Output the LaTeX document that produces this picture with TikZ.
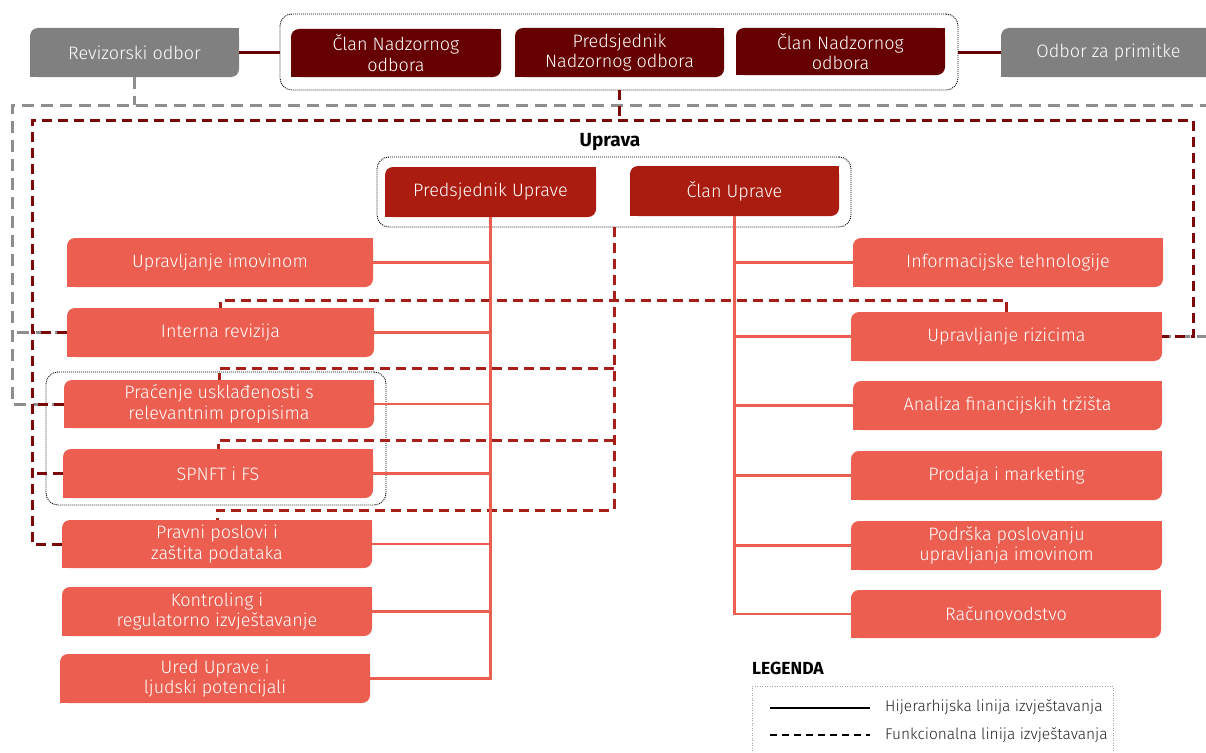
\documentclass[tikz,border=0pt]{standalone}
\usepackage{fontspec}
\setmainfont{Fira Sans}
\newfontfamily\lightfont{Fira Sans Light}
\usetikzlibrary{backgrounds}
\definecolor{gbox}{HTML}{808080}
\definecolor{nbox}{HTML}{660000}
\definecolor{ubox}{HTML}{AA1C10}
\definecolor{sbox}{HTML}{EB5E50}
\definecolor{maroonl}{HTML}{7A0808}
\definecolor{redl}{HTML}{A81E18}
\definecolor{grayl}{HTML}{8E8E8E}
\tikzset{
  box/.style={inner sep=0pt, outer sep=0pt, text=white, align=center, font=\lightfont\fontsize{18}{20.5}\selectfont},
  grp/.style={draw=black, line width=0.9pt, dash pattern=on 1pt off 1pt, rounded corners=12pt, inner sep=0pt, outer sep=0pt},
  legframe/.style={draw=black!35, line width=0.9pt, dash pattern=on 1pt off 1.5pt, inner sep=0pt, outer sep=0pt},
  sol/.style={draw=sbox, line width=2.2pt},
  nsol/.style={draw=nbox, line width=2.2pt},
  gdash/.style={draw=grayl, line width=3pt, dash pattern=on 12pt off 7pt},
  mdash/.style={draw=maroonl, line width=3pt, dash pattern=on 10pt off 6pt},
  rdash/.style={draw=redl, line width=3pt, dash pattern=on 10pt off 6pt},
  lbl/.style={inner sep=0pt, font=\fontsize{17.5}{20}\selectfont\bfseries},
  legtxt/.style={inner sep=0pt, anchor=west, text=black!85, font=\lightfont\fontsize{15.5}{18}\selectfont}
}
\newcommand\bx[7]{%
  \node[box, minimum width={#4-#2}, minimum height={#5-#3}] (#1) at ({(#2+#4)/2},{(#3+#5)/2}) {#7};
  \begin{scope}[on background layer]
    \fill[#6, rounded corners=8pt] (#1.south west) rectangle (#1.north east);
    \fill[#6] (#1.north east) rectangle ++(-9pt,-9pt);
    \fill[#6] (#1.south west) rectangle ++(9pt,9pt);
  \end{scope}}
\newcommand\gbx[6]{%
  \node[#6, minimum width={#4-#2}, minimum height={#5-#3}] (#1) at ({(#2+#4)/2},{(#3+#5)/2}) {};}
\begin{document}
\begin{tikzpicture}[x=1pt, y=-1pt]
\useasboundingbox (0,0) rectangle (1206,752);
% group frames
\gbx{ngrp}{280}{14}{958}{90}{grp}
\gbx{ugrp}{377}{157}{851}{227}{grp}
\gbx{cgrp}{46}{372}{386}{505}{grp}
\gbx{legbox}{752}{686}{1113}{770}{legframe}
% top boxes
\bx{revo}{30}{28}{239}{77}{gbox}{Revizorski odbor}
\bx{odbp}{1001}{28}{1216}{77}{gbox}{Odbor za primitke}
\bx{cno1}{291}{29}{501}{77}{nbox}{Član Nadzornog\\odbora}
\bx{pno}{515}{28}{724}{77}{nbox}{Predsjednik\\Nadzornog odbora}
\bx{cno2}{736}{28}{945}{75}{nbox}{Član Nadzornog\\odbora}
\node[lbl, font=\fontsize{19}{22}\selectfont\bfseries] (uprlbl) at (610,142) {Uprava};
\bx{predU}{385}{167}{596}{217}{ubox}{Predsjednik Uprave}
\bx{clanU}{630}{166}{839}{216}{ubox}{Član Uprave}
% left column
\bx{upim}{67}{238}{373}{287}{sbox}{Upravljanje imovinom}
\bx{intrev}{67}{308}{374}{357}{sbox}{Interna revizija}
\bx{prac}{64}{380}{374}{428}{sbox}{Praćenje usklađenosti s\\relevantnim propisima}
\bx{spnft}{63}{449}{373}{498}{sbox}{SPNFT i FS}
\bx{pravni}{62}{520}{372}{568}{sbox}{Pravni poslovi i\\zaštita podataka}
\bx{kontr}{62}{587}{372}{636}{sbox}{Kontroling i\\regulatorno izvještavanje}
\bx{ured}{60}{654}{370}{703}{sbox}{Ured Uprave i\\ljudski potencijali}
% right column
\bx{info}{853}{238}{1163}{287}{sbox}{Informacijske tehnologije}
\bx{uriz}{851}{312}{1162}{361}{sbox}{Upravljanje rizicima}
\bx{anal}{853}{381}{1162}{430}{sbox}{Analiza financijskih tržišta}
\bx{prod}{851}{451}{1162}{500}{sbox}{Prodaja i marketing}
\bx{podr}{851}{521}{1162}{570}{sbox}{Podrška poslovanju\\upravljanja imovinom}
\bx{racun}{851}{590}{1161}{638}{sbox}{Računovodstvo}
% top solid links
\draw[nsol] (revo.east) -- (revo.east -| ngrp.west);
\draw[nsol] (odbp.west) -- (odbp.west -| ngrp.east);
% gray dashed (functional)
\draw[gdash] (revo.south) -- (revo.south |- 0,105);
\draw[gdash] (prac.west) -| (12,105) -- (1212,105) |- (uriz.east);
\draw[gdash] (intrev.west) -- (intrev.west -| 12,0);
% maroon dashed (functional)
\draw[mdash] (ngrp.south) -- (ngrp.south |- 0,120);
\draw[mdash] (pravni.west) -| (32,120) -- (1193,120) |- (uriz.east);
\foreach \n in {intrev,prac,spnft} \draw[mdash] (\n.west) -- (\n.west -| 32,0);
% red dashed from Uprava
\draw[rdash] (ugrp.south) -- (ugrp.south |- 0,510) -| (pravni.north);
\draw[rdash] (ugrp.south |- 0,440) -| (spnft.north);
\draw[rdash] (ugrp.south |- 0,368) -| (prac.north);
\draw[rdash] (uriz.north) |- (intrev.north |- 0,300) -- (intrev.north);
% solid hierarchy
\draw[sol] (predU.south) -- (predU.south |- ured.east) -- (ured.east);
\foreach \n in {upim,intrev,prac,spnft,pravni,kontr} \draw[sol] (\n.east) -- (\n.east -| predU.south);
\draw[sol] (clanU.south) -- (clanU.south |- racun.west) -- (racun.west);
\foreach \n in {info,uriz,anal,prod,podr} \draw[sol] (\n.west) -- (\n.west -| clanU.south);
% legend
\node[lbl, anchor=west] (leglbl) at (752,668) {LEGENDA};
\coordinate (l1a) at (770,708);
\coordinate (l1b) at (870,708);
\coordinate (l2a) at (770,735);
\coordinate (l2b) at (870,735);
\draw[black, line width=1.6pt] (l1a) -- (l1b);
\draw[black, line width=1.6pt, dash pattern=on 7pt off 5pt] (l2a) -- (l2b);
\node[legtxt] (l1t) at (885,707) {Hijerarhijska linija izvještavanja};
\node[legtxt] (l2t) at (885,735) {Funkcionalna linija izvještavanja};
\end{tikzpicture}
\end{document}
